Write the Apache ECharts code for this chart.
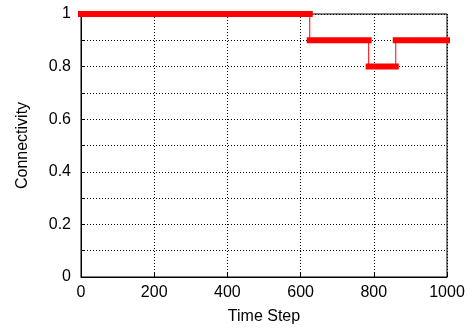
<!DOCTYPE html>
<html>
<head>
<meta charset="utf-8">
<script src="https://cdn.jsdelivr.net/npm/echarts@6/dist/echarts.min.js"></script>
<style>
  html, body { margin: 0; padding: 0; background: #fff; }
  #chart { width: 472px; height: 330px; }
</style>
</head>
<body>
<div id="chart"></div>
<script>
// time steps where the connectivity level changes, and the level held after each
const changeSteps = [0, 625, 786, 860, 1000];
const levels = [1, 0.9, 0.8, 0.9];
const yTicks = [0, 0.2, 0.4, 0.6, 0.8, 1];

const fontFamily = 'Liberation Sans, Arial, sans-serif';

// thin step line for the transitions
let stepData = [];
for (let i = 0; i < levels.length; i++) {
  stepData.push([changeSteps[i], levels[i]]);
  stepData.push([changeSteps[i + 1], levels[i]]);
}

// thick horizontal pieces, split by null
let barData = [];
for (let i = 0; i < levels.length; i++) {
  barData.push([changeSteps[i], levels[i]]);
  barData.push([changeSteps[i + 1], levels[i]]);
  barData.push(null);
}

const chart = echarts.init(document.getElementById('chart'));
chart.setOption({
  animation: false,
  grid: {
    left: 81,
    right: 25,
    top: 14,
    bottom: 50,
    show: true,
    borderColor: '#000',
    borderWidth: 1,
  },
  xAxis: {
    type: 'value',
    min: 0,
    max: 1000,
    interval: 200,
    name: 'Time Step',
    nameLocation: 'middle',
    nameGap: 32,
    nameTextStyle: { color: '#000', fontSize: 16, fontFamily: fontFamily },
    axisLine: { show: true, lineStyle: { color: '#000', width: 1 } },
    axisTick: { show: true, inside: true, length: 4, lineStyle: { color: '#000' } },
    axisLabel: {
      color: '#000',
      fontSize: 16,
      fontFamily: fontFamily,
      margin: 8,
      formatter: function (v) { return String(v); },
    },
    splitLine: { show: true, lineStyle: { color: '#000', type: [1, 2], width: 1 } },
  },
  yAxis: {
    type: 'value',
    min: 0,
    max: 1,
    interval: 0.1,
    name: 'Connectivity',
    nameLocation: 'middle',
    nameGap: 50,
    nameTextStyle: { color: '#000', fontSize: 16, fontFamily: fontFamily },
    axisLine: { show: true, lineStyle: { color: '#000', width: 1 } },
    axisTick: { show: true, inside: true, length: 4, lineStyle: { color: '#000' } },
    axisLabel: {
      color: '#000',
      fontSize: 16,
      fontFamily: fontFamily,
      margin: 10,
      formatter: function (v) {
        const r = Math.round(v * 10) / 10;
        return yTicks.indexOf(r) > -1 ? String(r) : '';
      },
    },
    splitLine: { show: true, lineStyle: { color: '#000', type: [1, 2], width: 1 } },
  },
  series: [
    {
      type: 'line',
      data: stepData,
      symbol: 'none',
      lineStyle: { color: '#ff0000', width: 1 },
      z: 3,
    },
    {
      type: 'line',
      data: barData,
      symbol: 'none',
      connectNulls: false,
      lineStyle: { color: '#ff0000', width: 6, cap: 'square' },
      z: 4,
    },
  ],
});
</script>
</body>
</html>
